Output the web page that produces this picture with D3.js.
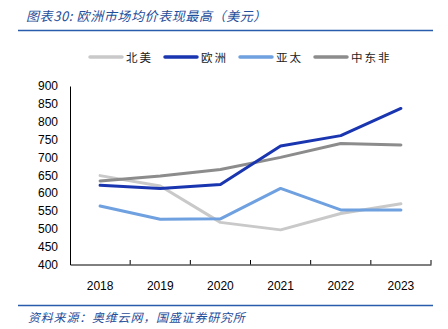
<!DOCTYPE html>
<html><head><meta charset="utf-8">
<script src="https://cdn.jsdelivr.net/npm/d3@7"></script>
<style>body{margin:0;background:#fff}svg{display:block}</style>
</head><body>
<script>
const years = ["2018","2019","2020","2021","2022","2023"];
const seriesNames = ["北美","欧洲","亚太","中东非"];
const northAmerica = [649, 620, 518, 497, 543, 570];
const europe = [622, 613, 624, 732, 761, 837];
const asiaPacific = [564, 527, 528, 613, 553, 553];
const mea = [634, 648, 666, 700, 739, 735];
const yTicks = [400,450,500,550,600,650,700,750,800,850,900];
const colors = ["#c9c9c9","#1a35b0","#6fa0df","#8c8c8c"];
const title = "图表30: 欧洲市场均价表现最高（美元）";
const source = "资料来源：奥维云网，国盛证券研究所";

const W=448,H=329;
const svg=d3.select("body").append("svg").attr("width",W).attr("height",H);
const cjk='"Noto Sans CJK SC", sans-serif';

svg.append("text").attr("x",26).attr("y",21).attr("fill","#1f4e9a").attr("font-size",13)
  .attr("font-style","italic").attr("letter-spacing",0.6).attr("font-family",cjk).text(title);
svg.append("line").attr("x1",18).attr("x2",433).attr("y1",30.5).attr("y2",30.5).attr("stroke","#2a5cad").attr("stroke-width",1.5);

const x=d3.scaleBand().domain(years).range([70,431]);
const y=d3.scaleLinear().domain([400,900]).range([264.5,86]);

const data=[northAmerica,europe,asiaPacific,mea];

// legend
const legX=[90,165,240,315];
seriesNames.forEach((n,i)=>{
  const g=svg.append("g");
  g.append("line").attr("x1",legX[i]).attr("x2",legX[i]+32).attr("y1",57).attr("y2",57)
    .attr("stroke",colors[i]).attr("stroke-width",3.5).attr("stroke-linecap","round");
  g.append("text").attr("x",legX[i]+36).attr("y",61.5).attr("font-size",11.5).attr("font-family",cjk)
    .attr("letter-spacing",2).attr("fill","#222").text(n);
});

const yAxis=svg.append("g").attr("transform","translate(70,0)")
  .call(d3.axisLeft(y).tickValues(yTicks).tickSize(0).tickPadding(12));
yAxis.select(".domain").attr("stroke","#000");
yAxis.selectAll("text").attr("font-size",12).attr("font-family","'Liberation Sans',Arial,sans-serif").attr("fill","#000");

const xAxis=svg.append("g").attr("transform","translate(0,264.5)")
  .call(d3.axisBottom(x).tickSize(0).tickPadding(17));
xAxis.select(".domain").attr("stroke","#000");
xAxis.selectAll("text").attr("font-size",12).attr("font-family","'Liberation Sans',Arial,sans-serif").attr("fill","#000");
// boundary ticks
const bounds=years.map(d=>x(d)).concat([x.range()[1]]);
svg.append("g").selectAll("line").data(bounds.slice(1)).join("line")
  .attr("x1",d=>d).attr("x2",d=>d).attr("y1",264.5).attr("y2",260).attr("stroke","#000");

const line=d3.line().x((d,i)=>x(years[i])+x.bandwidth()/2).y(d=>y(d));
[0,2,3,1].forEach(i=>{
  svg.append("path").attr("d",line(data[i])).attr("fill","none").attr("stroke",colors[i])
    .attr("stroke-width",3).attr("stroke-linejoin","round").attr("stroke-linecap","round");
});

svg.append("line").attr("x1",18).attr("x2",433).attr("y1",305.5).attr("y2",305.5).attr("stroke","#2a5cad").attr("stroke-width",1.5);
svg.append("text").attr("x",28).attr("y",322).attr("fill","#1f4e9a").attr("font-size",12)
  .attr("font-style","italic").attr("letter-spacing",0.8).attr("font-family",cjk).text(source);
</script>
</body></html>
